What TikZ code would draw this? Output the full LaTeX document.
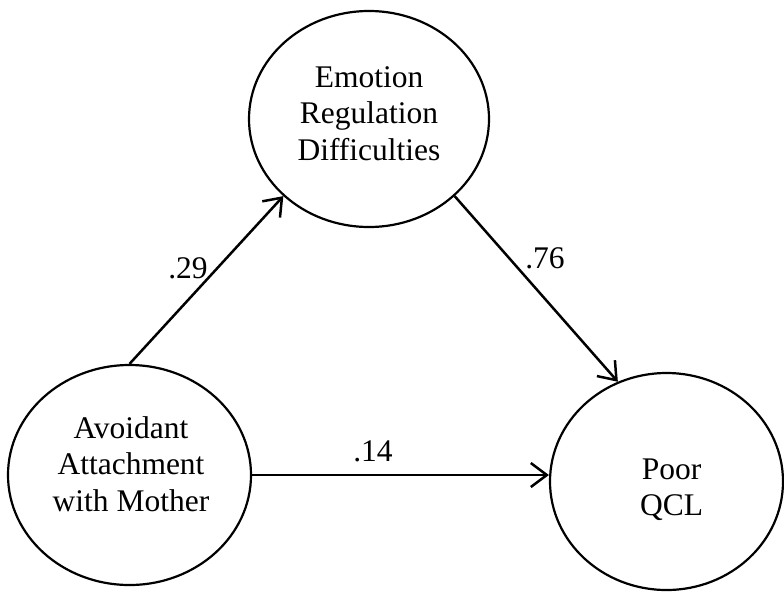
\documentclass[tikz,border=0pt]{standalone}
\usepackage{fontspec}
\setmainfont{Liberation Serif}
\usetikzlibrary{shapes.geometric,arrows.meta}
\begin{document}
\begin{tikzpicture}[x=1pt,y=-1pt,
  latent/.style={ellipse, draw, line width=2.2pt, inner sep=0pt},
  caption/.style={align=center, inner sep=0pt,
    font={\fontsize{31.5}{36.5}\selectfont}},
  path/.style={line width=2.5pt, -{Straight Barb[length=16pt,width=24pt,line width=2.5pt]}},
  coef/.style={anchor=base, inner sep=0pt, font={\fontsize{31.5}{36.5}\selectfont}}]
\useasboundingbox (0,0) rectangle (784,592);

% latent variables
\node[latent, minimum width=240pt, minimum height=216pt] (erd) at (369,119) {};
\node[latent, minimum width=243pt, minimum height=220pt] (avoid) at (129.5,475) {};
\node[latent, minimum width=233pt, minimum height=217pt] (qcl) at (666.5,481.5) {};

% variable names
\node[caption] (erd-name) at (369,113.6) {Emotion\\Regulation\\Difficulties};
\node[caption] (avoid-name) at (131,463.8) {Avoidant\\Attachment\\with Mother};
\node[caption] (qcl-name) at (671.5,489.8) {Poor\\QCL};

% structural paths
\draw[path] (avoid.north) -- (erd.222);
\draw[path] (erd.318.5) -- (qcl.116.7);
\draw[path] (avoid.east) -- (avoid.east -| qcl.west);

% path coefficients
\node[coef] (b1) at (188,278) {.29};
\node[coef] (b2) at (545,268) {.76};
\node[coef] (b3) at (373,461) {.14};
\end{tikzpicture}
\end{document}
